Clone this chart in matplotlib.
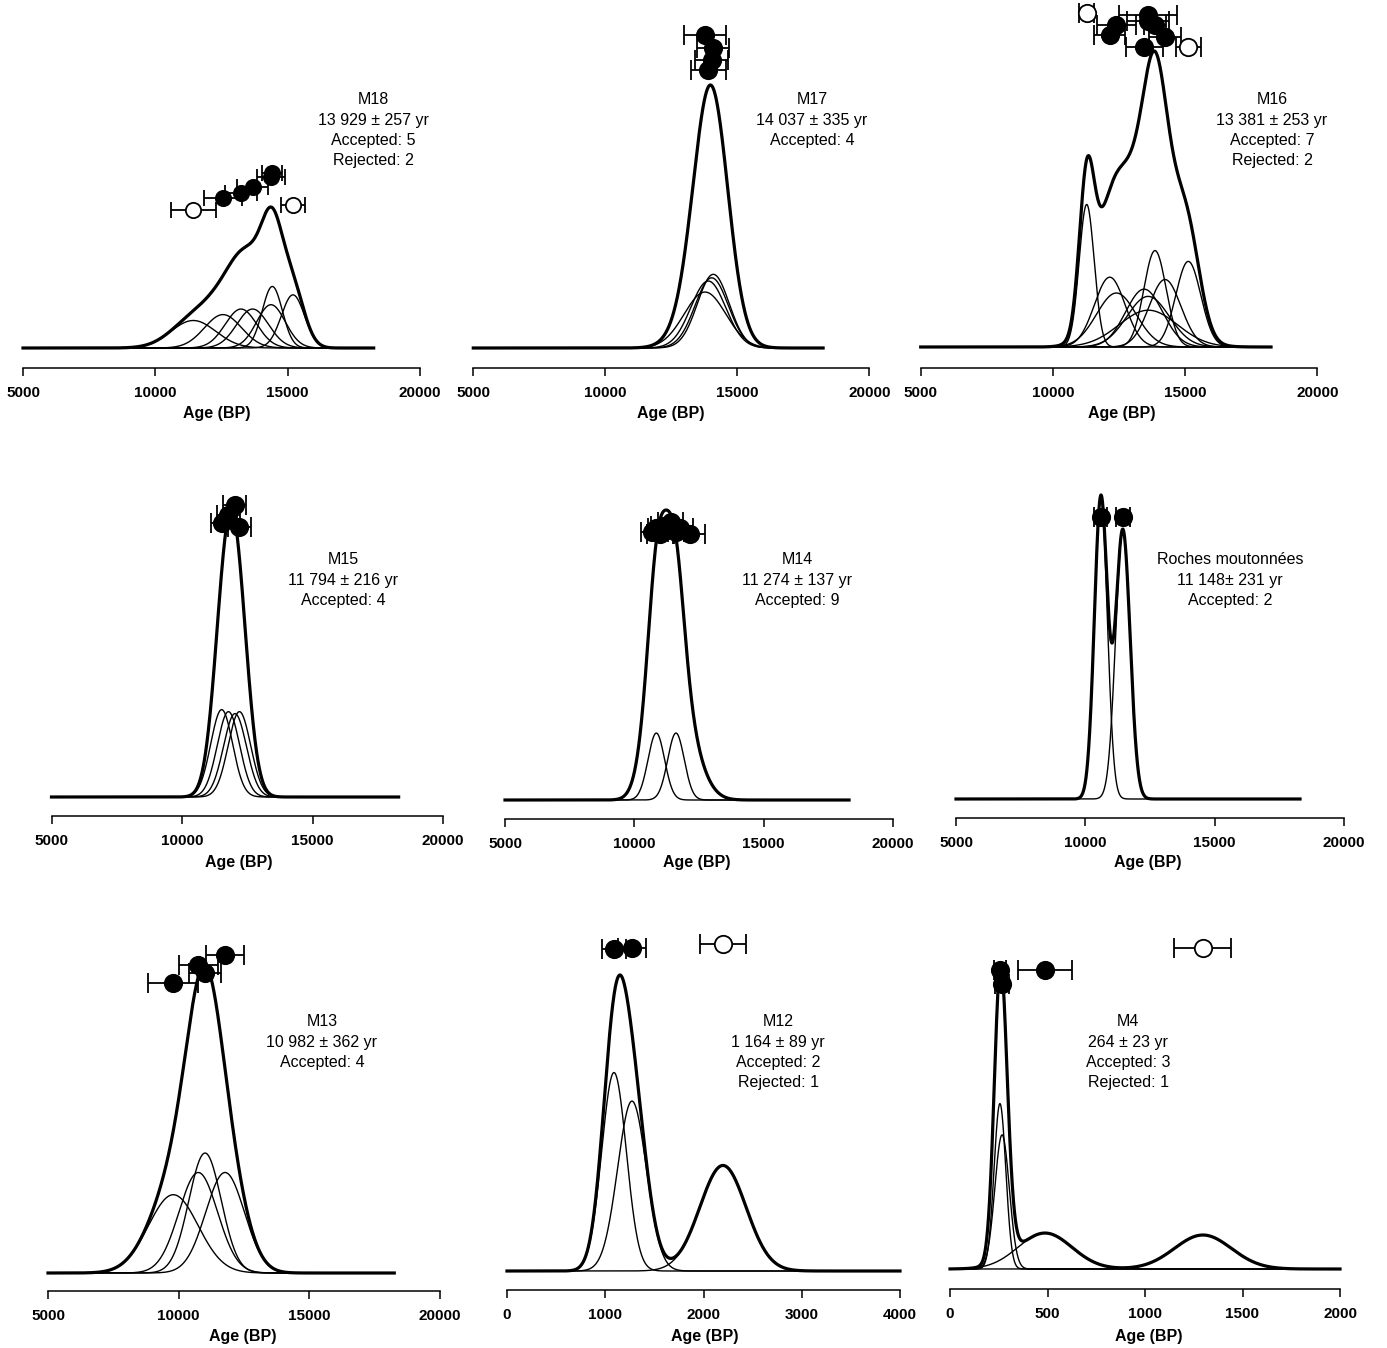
import numpy as np
import matplotlib
matplotlib.use('Agg')
import matplotlib.pyplot as plt

plt.rcParams['font.family'] = ['Liberation Sans', 'DejaVu Sans']

# ages (yr BP), 1-sigma errors, accepted flag, stacking level of the dot
m18_age = [11434, 12556, 13237, 13675, 14370, 14420, 15200]
m18_err = [850, 700, 600, 600, 540, 380, 440]
m18_ok = [0, 1, 1, 1, 1, 1, 0]
m18_lvl = [138, 150, 155, 161, 171, 175, 143]

m17_age = [13777, 14091, 14030, 13900]
m17_err = [790, 600, 630, 660]
m17_ok = [1, 1, 1, 1]
m17_lvl = [313, 300, 288, 278]

m16_age = [11278, 12400, 12150, 13608, 13862, 13600, 14240, 13450, 15121]
m16_err = [284, 750, 580, 1100, 420, 800, 600, 700, 473]
m16_ok = [0, 1, 1, 1, 1, 1, 1, 1, 0]
m16_lvl = [334, 322, 312, 332, 322, 326, 310, 300, 300]

m15_age = [11520, 11780, 12030, 12200]
m15_err = [420, 430, 440, 430]
m15_ok = [1, 1, 1, 1]
m15_lvl = [274, 282, 292, 270]

m14_age = [10700, 10850, 11000, 11150, 11250, 11400, 11610, 11750, 12150]
m14_err = [450, 320, 500, 500, 500, 500, 320, 500, 600]
m14_ok = [1, 1, 1, 1, 1, 1, 1, 1, 1]
m14_lvl = [268, 272, 266, 274, 270, 278, 268, 272, 266]
m14_thin = [0, 1, 0, 0, 0, 0, 1, 0, 0]

rm_age = [10600, 11450]
rm_err = [250, 280]
rm_ok = [1, 1]
rm_lvl = [282, 282]

m13_age = [9795, 10750, 11010, 11775]
m13_err = [950, 740, 620, 740]
m13_ok = [1, 1, 1, 1]
m13_lvl = [290, 308, 300, 318]

m12_age = [1089, 1272, 2198]
m12_err = [125, 146, 235]
m12_ok = [1, 1, 0]
m12_lvl = [322, 323, 327]

m4_age = [256, 267, 487, 1297]
m4_err = [30, 37, 138, 146]
m4_ok = [1, 1, 1, 0]
m4_lvl = [299, 285, 299, 321]

big_ticks = [5000, 10000, 15000, 20000]

panels = [
    dict(d=(m18_age, m18_err, m18_ok, m18_lvl), thin=None, ticks=big_ticks, px=(23, 420),
         ay=368, by=348, ty=0, peak=141, tx=373, ty0=100,
         lines=['M18', '13 929 ± 257 yr', 'Accepted: 5', 'Rejected: 2'],
         lab=(217, 413), rng=(5000, 18250), ms=11),
    dict(d=(m17_age, m17_err, m17_ok, m17_lvl), thin=None, ticks=big_ticks, px=(473.3, 869.3),
         ay=368, by=348, ty=0, peak=263, tx=812, ty0=100,
         lines=['M17', '14 037 ± 335 yr', 'Accepted: 4'],
         lab=(671, 413), rng=(5000, 18250), ms=12.5),
    dict(d=(m16_age, m16_err, m16_ok, m16_lvl), thin=None, ticks=big_ticks, px=(920.7, 1317.3),
         ay=368, by=347, ty=0, peak=296, tx=1272, ty0=100,
         lines=['M16', '13 381 ± 253 yr', 'Accepted: 7', 'Rejected: 2'],
         lab=(1122, 413), rng=(5000, 18250), ms=12.5),
    dict(d=(m15_age, m15_err, m15_ok, m15_lvl), thin=None, ticks=big_ticks, px=(51.5, 443),
         ay=816, by=797, ty=450, peak=287, tx=343, ty0=560,
         lines=['M15', '11 794 ± 216 yr', 'Accepted: 4'],
         lab=(239, 862), rng=(5000, 18300), ms=12.5),
    dict(d=(m14_age, m14_err, m14_ok, m14_lvl), thin=m14_thin, ticks=big_ticks, px=(505, 893),
         ay=819, by=800, ty=450, peak=290, tx=797, ty0=560,
         lines=['M14', '11 274 ± 137 yr', 'Accepted: 9'],
         lab=(697, 862), rng=(5000, 18300), ms=12.5),
    dict(d=(rm_age, rm_err, rm_ok, rm_lvl), thin=None, ticks=big_ticks, px=(956, 1344),
         ay=818, by=799, ty=450, peak=304, tx=1230, ty0=560,
         lines=['Roches moutonnées', '11 148± 231 yr', 'Accepted: 2'],
         lab=(1148, 862), rng=(5000, 18300), ms=12.5),
    dict(d=(m13_age, m13_err, m13_ok, m13_lvl), thin=None, ticks=big_ticks, px=(48, 440),
         ay=1291, by=1273, ty=920, peak=308, tx=322, ty0=1022,
         lines=['M13', '10 982 ± 362 yr', 'Accepted: 4'],
         lab=(243, 1336), rng=(5000, 18250), ms=12.5),
    dict(d=(m12_age, m12_err, m12_ok, m12_lvl), thin=None, ticks=[0, 1000, 2000, 3000, 4000],
         px=(507, 900), ay=1290, by=1271, ty=920, peak=296, tx=778, ty0=1022,
         lines=['M12', '1 164 ± 89 yr', 'Accepted: 2', 'Rejected: 1'],
         lab=(705, 1336), rng=(0, 4000), ms=12.5),
    dict(d=(m4_age, m4_err, m4_ok, m4_lvl), thin=None, ticks=[0, 500, 1000, 1500, 2000],
         px=(950, 1340), ay=1289, by=1269, ty=920, peak=305, tx=1128, ty0=1022,
         lines=['M4', '264 ± 23 yr', 'Accepted: 3', 'Rejected: 1'],
         lab=(1149, 1336), rng=(0, 2000), ms=12.5),
]

W, H = 1387, 1348
fig = plt.figure(figsize=(W / 100, H / 100), dpi=100)

for p in panels:
    age, err, ok, lvl = p['d']
    xa, xb = p['px']
    ax = fig.add_axes([xa / W, 1 - p['ay'] / H, (xb - xa) / W, (p['ay'] - p['ty']) / H])
    ax.set_facecolor('none')
    ax.set_xlim(p['ticks'][0], p['ticks'][-1])
    ax.set_ylim(-(p['ay'] - p['by']), p['by'] - p['ty'])

    x = np.linspace(p['rng'][0], p['rng'][1], 2000)
    pdfs = [np.exp(-0.5 * ((x - m) / s) ** 2) / s for m, s in zip(age, err)]
    total = np.sum(pdfs, axis=0)
    k = p['peak'] / total.max()
    for i, pdf in enumerate(pdfs):
        if p['thin'] is None or p['thin'][i]:
            ax.plot(x, k * pdf, color='black', lw=1.0, clip_on=False)
    ax.plot(x, k * total, color='black', lw=2.3, clip_on=False)

    for m, s, a, l in zip(age, err, ok, lvl):
        ax.errorbar(m, l, xerr=s, fmt='o', ms=p['ms'], mfc='black' if a else 'white',
                    mec='black', mew=1.3, ecolor='black', elinewidth=1.3,
                    capsize=p['ms'] * 0.55, capthick=1.3, clip_on=False, zorder=5)

    for side in ['top', 'left', 'right']:
        ax.spines[side].set_visible(False)
    ax.spines['bottom'].set_linewidth(1.1)
    ax.set_yticks([])
    ax.set_xticks(p['ticks'])
    ax.set_xticklabels([str(t) for t in p['ticks']], fontweight='bold', fontsize=11)
    ax.tick_params(axis='x', direction='out', length=6, width=1.1, pad=7)

    for j, line in enumerate(p['lines']):
        fig.text(p['tx'] / W, 1 - (p['ty0'] + 20 * j) / H, line, ha='center', va='center',
                 fontsize=11.5)
    fig.text(p['lab'][0] / W, 1 - p['lab'][1] / H, 'Age (BP)', ha='center', va='center',
             fontsize=11.5, fontweight='bold')

fig.savefig('out.png', dpi=100)
